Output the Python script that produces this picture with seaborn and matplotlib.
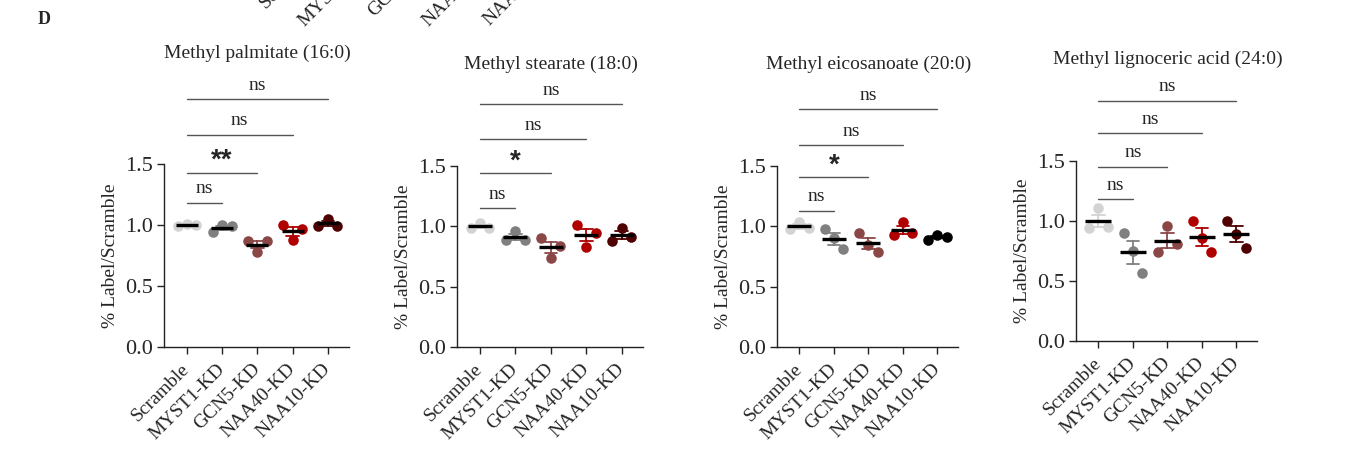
import numpy as np
import pandas as pd
import matplotlib
matplotlib.use("Agg")
import matplotlib.pyplot as plt
import seaborn as sns

# ---------------- data ----------------
groups = ["Scramble", "MYST1-KD", "GCN5-KD", "NAA40-KD", "NAA10-KD"]
titles = ["Methyl palmitate (16:0)", "Methyl stearate (18:0)",
          "Methyl eicosanoate (20:0)", "Methyl lignoceric acid (24:0)"]

# three replicates per group (% label relative to Scramble)
palmitate = [[0.99, 1.01, 1.00], [0.945, 1.00, 0.99], [0.87, 0.78, 0.865],
             [1.00, 0.88, 0.965], [0.995, 1.05, 0.995]]
stearate = [[0.985, 1.03, 0.985], [0.89, 0.96, 0.89], [0.90, 0.74, 0.84],
            [1.01, 0.83, 0.945], [0.88, 0.99, 0.915]]
eicosanoate = [[0.975, 1.035, 0.99], [0.975, 0.905, 0.81], [0.945, 0.845, 0.79],
               [0.93, 1.04, 0.945], [0.89, 0.93, 0.915]]
lignoceric = [[0.945, 1.105, 0.95], [0.90, 0.75, 0.565], [0.745, 0.96, 0.805],
              [1.00, 0.86, 0.74], [1.00, 0.895, 0.775]]
panel_values = [palmitate, stearate, eicosanoate, lignoceric]

comparisons = ["MYST1-KD", "GCN5-KD", "NAA40-KD", "NAA10-KD"]  # each vs Scramble
sig_labels = [["ns", "**", "ns", "ns"],
              ["ns", "*", "ns", "ns"],
              ["ns", "*", "ns", "ns"],
              ["ns", "ns", "ns", "ns"]]

# cropped tick labels of the panel above (top edge of the figure)
top_fragments = ["Scramble", "MYST1-KD", "GCN5-KD", "NAA40-KD", "NAA10-KD"]

# ---------------- style ----------------
sns.set_style("ticks")
plt.rcParams["font.family"] = ["Liberation Serif", "DejaVu Serif"]
plt.rcParams["axes.linewidth"] = 1.0

base_colors = ["#d3d3d3", "#808080", "#8b4646", "#b00000", "#4f0000"]
panel_colors = [base_colors, base_colors,
                base_colors[:4] + ["#000000"], base_colors]

W, H = 1357, 454
fig = plt.figure(figsize=(W / 100, H / 100), dpi=100)

# axes rectangles in pixels: left, top(1.5), right, bottom(0)
rects_px = [(164, 164, 349, 347), (457, 166, 643, 347),
            (777, 166, 958, 347), (1076, 161, 1257, 341)]
bracket_h = [[1.18, 1.43, 1.74, 2.03], [1.15, 1.44, 1.72, 2.01],
             [1.13, 1.41, 1.67, 1.97], [1.18, 1.45, 1.73, 2.00]]
title_y = [2.41, 2.34, 2.34, 2.35]
mean_w = [16, 17, 17, 19]

for p in range(4):
    l, t, r, b = rects_px[p]
    ax = fig.add_axes([l / W, 1 - b / H, (r - l) / W, (b - t) / H])
    vals = panel_values[p]
    cols = panel_colors[p]
    df = pd.DataFrame({
        "group": np.repeat(groups, 3),
        "value": np.ravel(vals),
        "rep": np.tile([1, 2, 3], len(groups)),
    })
    for g, c in zip(groups, cols):
        sns.stripplot(data=df[df["group"] == g], x="group", y="value",
                      hue="rep", order=groups, hue_order=[1, 2, 3],
                      dodge=True, jitter=False, palette=[c] * 3, size=7.6,
                      linewidth=0, legend=False, ax=ax, zorder=2)
    sns.pointplot(data=df, x="group", y="value", hue="group", order=groups,
                  hue_order=groups, palette=cols, errorbar="se", capsize=0.36,
                  linestyle="none", marker="", err_kws={"linewidth": 1.3},
                  legend=False, ax=ax, zorder=3)
    sns.pointplot(data=df, x="group", y="value", order=groups, errorbar=None,
                  color="black", marker="_", markersize=mean_w[p],
                  markeredgewidth=2.4, linestyle="none", ax=ax, zorder=4)

    ax.set_xlim(-0.65, 4.6)
    ax.set_ylim(0, 1.5)
    ax.set_yticks([0, 0.5, 1.0, 1.5])
    ax.set_yticklabels(["0.0", "0.5", "1.0", "1.5"], fontsize=16)
    ax.set_xticks(range(len(groups)))
    ax.set_xticklabels(groups, rotation=45, ha="right", va="center",
                       rotation_mode="anchor", fontsize=14)
    ax.tick_params(axis="both", length=5, width=1.0, pad=3, color="#222222")
    ax.tick_params(axis="x", pad=9)
    ax.set_xlabel("")
    ax.set_ylabel("% Label/Scramble", fontsize=14, labelpad=4)
    sns.despine(ax=ax)
    for s in ("left", "bottom"):
        ax.spines[s].set_color("#222222")

    for k, (g, lab) in enumerate(zip(comparisons, sig_labels[p])):
        j = groups.index(g)
        h = bracket_h[p][k]
        ax.plot([0, j], [h, h], color="#555555", lw=1.0, clip_on=False)
        if "*" in lab:
            ax.annotate(lab, xy=(j / 2, h), xytext=(0, -1),
                        textcoords="offset points", ha="center", va="bottom",
                        fontsize=20, fontweight="bold",
                        family=["Liberation Sans", "DejaVu Sans"],
                        annotation_clip=False)
        else:
            ax.annotate(lab, xy=(j / 2, h), xytext=(0, 4),
                        textcoords="offset points", ha="center", va="bottom",
                        fontsize=14, annotation_clip=False)
    ax.text(2, title_y[p], titles[p], ha="center", va="center", fontsize=14,
            clip_on=False)

fig.text(44 / W, 1 - 20 / H, "D", fontsize=13, fontweight="bold",
         ha="center", va="center")

frag_pos = [(266, 9), (304, 27), (374, 17), (428, 27), (489, 26)]
for txt, (x, y) in zip(top_fragments, frag_pos):
    fig.text(x / W, 1 - y / H, txt, rotation=45, rotation_mode="anchor",
             ha="left", va="baseline", fontsize=14)

fig.savefig("out.png", dpi=100)
